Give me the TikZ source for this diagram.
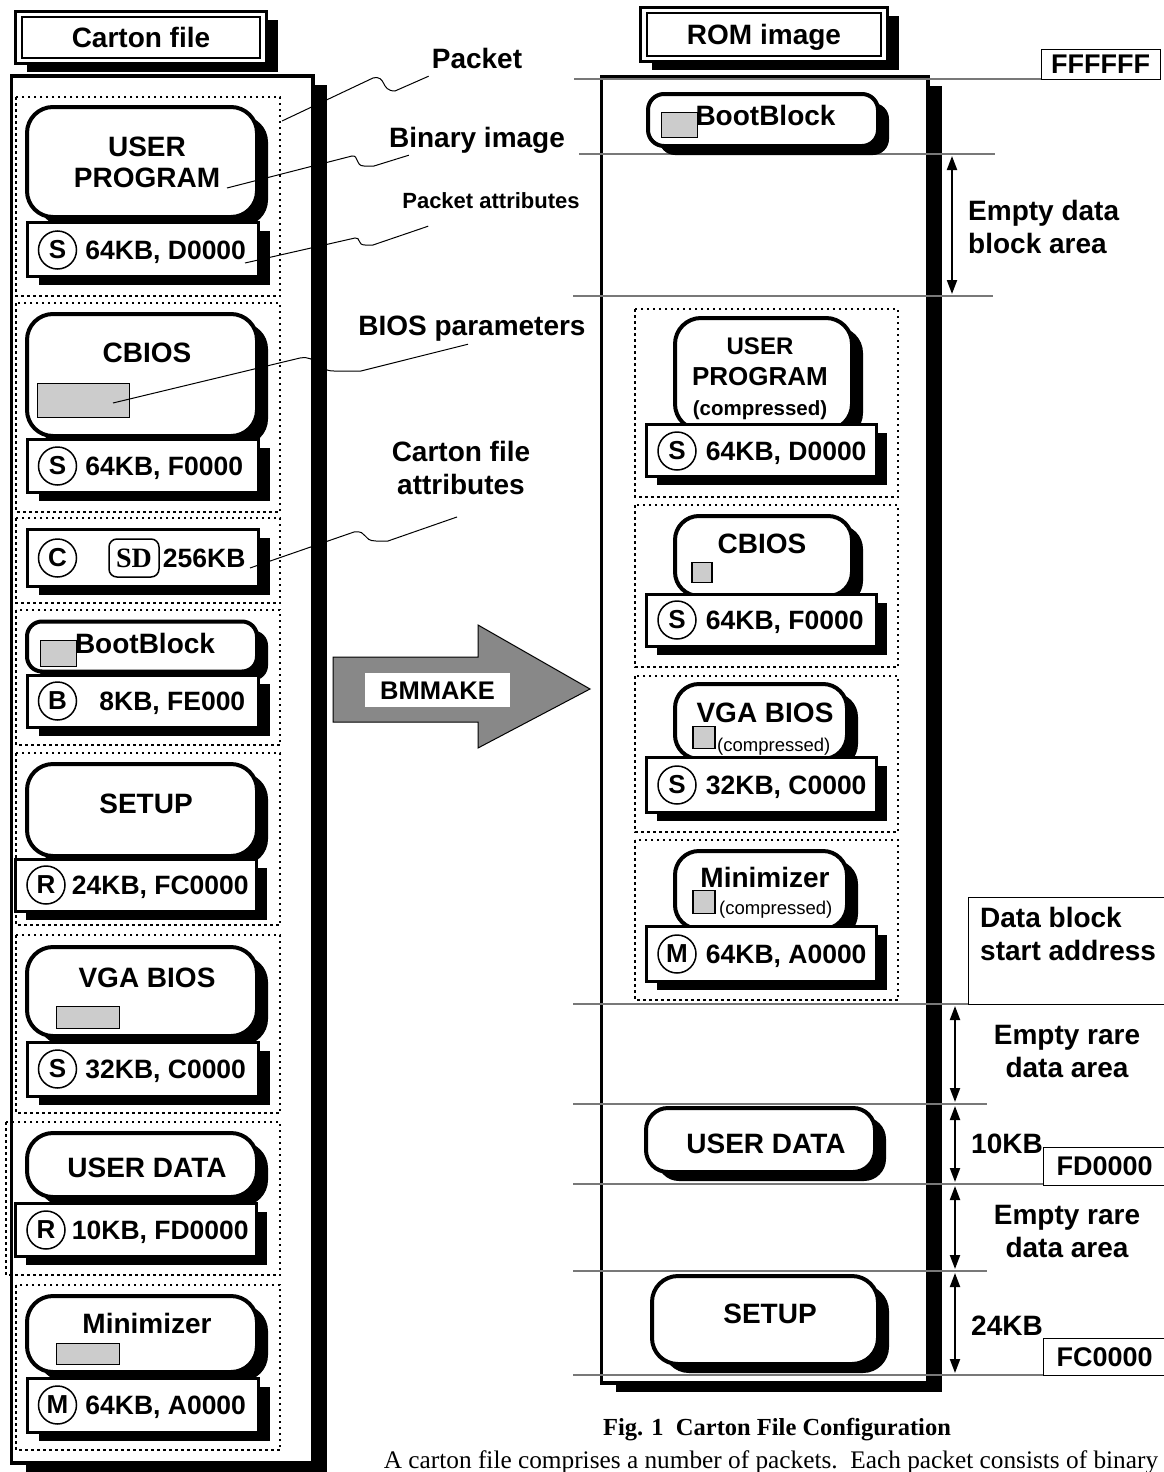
\documentclass[tikz,border=0pt]{standalone}
\usepackage{fontspec}
\setmainfont{Liberation Sans}
\newfontfamily\capserif{Liberation Serif}
\usepackage{tikz}
\usetikzlibrary{arrows.meta, positioning, shadows}
\definecolor{parmgray}{RGB}{204, 204, 204}
\definecolor{arrowgray}{RGB}{136, 136, 136}
\definecolor{levelgray}{RGB}{120, 120, 120}

\tikzset{
  sdw/.style={drop shadow={shadow xshift=11pt, shadow yshift=-9pt, fill=black, opacity=1}},
  bigsdw/.style={drop shadow={shadow xshift=14pt, shadow yshift=-9pt, fill=black, opacity=1}},
  bigbox/.style={draw, line width=3.5pt, fill=white, bigsdw, inner sep=0pt},
  titlebox/.style={draw, line width=3pt, fill=white, sdw, inner sep=0pt, text height=20pt, text depth=0pt},
  prog/.style={draw, line width=4pt, rounded corners=26pt, fill=white, sdw, inner sep=0pt},
  attr/.style={draw, line width=3pt, fill=white, sdw, inner sep=0pt, minimum width=231pt},
  pkt/.style={line width=1.5pt, dash pattern=on 2.5pt off 3.5pt},
  parm/.style={draw, line width=1.5pt, fill=parmgray, inner sep=0pt},
  circ/.style={draw, circle, line width=1.5pt, inner sep=0pt, minimum size=38pt, font=\bfseries\fontsize{26}{28}\selectfont},
  lbl/.style={inner sep=0pt, text height=20pt, text depth=0pt},
  atxt/.style={inner sep=0pt, text height=19pt, text depth=0pt, font=\bfseries\fontsize{26.5}{30}\selectfont},
  addr/.style={draw, line width=1pt, fill=white, inner xsep=13pt, inner ysep=0pt, text height=19pt, text depth=0pt, font=\bfseries\fontsize{27}{30}\selectfont},
  lvl/.style={levelgray, line width=1.5pt},
  lead/.style={line width=1pt},
}

\begin{document}
\begin{tikzpicture}[x=1pt, y=-1pt, >={Triangle[length=14pt, width=10pt]}, font=\bfseries\fontsize{28}{33}\selectfont]
    \useasboundingbox (0,0) rectangle (1163,1472);

    \node[titlebox, minimum width=251pt, minimum height=52pt] (ctitle) at (141,37.5) {Carton file};
    \draw[line width=1.2pt] ([shift={(8pt,-7pt)}]ctitle.north west) rectangle ([shift={(-8pt,7pt)}]ctitle.south east);
    \node[bigbox, minimum width=301.5pt, minimum height=1387pt] (cframe) at (162.25,769.5) {};

    \draw[pkt] (16,97) rectangle (280,296);
    \draw[pkt] (16,303) rectangle (280,512);
    \draw[pkt] (16,518) rectangle (280,603);
    \draw[pkt] (16,610) rectangle (280,745);
    \draw[pkt] (16,753) rectangle (280,925);
    \draw[pkt] (16,935) rectangle (280,1113);
    \draw[pkt] (6,1122) rectangle (280,1275);
    \draw[pkt] (16,1285) rectangle (280,1450);

    \node[prog, minimum width=230pt, minimum height=110pt] (lup) at (142,162) {};
    \node[inner sep=0pt, align=center, font=\bfseries\fontsize{28}{31}\selectfont] (lupt) at (147,162.5) {USER\\PROGRAM};
    \node[attr, minimum height=54pt] (la1) at (143,249) {};
    \node[circ] (ls1) at (57.5,250) {S};
    \node[atxt, right=8pt of ls1] (lt1) {64KB, D0000};

    \node[prog, minimum width=230pt, minimum height=122pt] (lcb) at (142,375) {};
    \node[lbl] (lcbt) at (147,352) {CBIOS};
    \node[parm, minimum width=92pt, minimum height=34pt] (lcbp) at (83.5,400.5) {};
    \node[attr, minimum height=53pt] (la2) at (143,465.5) {};
    \node[circ] (ls2) at (57.5,466) {S};
    \node[atxt, right=8pt of ls2] (lt2) {64KB, F0000};

    \node[attr, minimum height=57pt] (la3) at (143,557.5) {};
    \node[circ] (lc3) at (57.5,558) {C};
    \node[draw, line width=1.5pt, rounded corners=8pt, minimum width=50pt, minimum height=38pt, inner sep=0pt, font=\capserif\bfseries\fontsize{28}{30}\selectfont] (lsd) at (134,558) {SD};
    \node[atxt, right=3pt of lsd] (lt3) {256KB};

    \node[prog, rounded corners=15pt, minimum width=230pt, minimum height=50pt] (lbb) at (142,646.5) {};
    \node[parm, minimum width=36pt, minimum height=26pt] (lbbp) at (58.5,653.5) {};
    \node[lbl] (lbbt) at (145,643) {BootBlock};
    \node[attr, minimum height=52pt] (la4) at (143,701) {};
    \node[circ] (lb4) at (57.5,701) {B};
    \node[atxt, right=22pt of lb4] (lt4) {8KB, FE000};

    \node[prog, minimum width=230pt, minimum height=92pt] (lsu) at (142,810) {};
    \node[lbl] (lsut) at (146,803) {SETUP};
    \node[attr, minimum width=241pt, minimum height=52pt] (la5) at (135.5,885) {};
    \node[circ] (lr5) at (46,885) {R};
    \node[atxt, right=6pt of lr5] (lt5) {24KB, FC0000};

    \node[prog, minimum width=230pt, minimum height=89pt] (lvg) at (142,991.5) {};
    \node[lbl] (lvgt) at (147,977) {VGA BIOS};
    \node[parm, minimum width=63pt, minimum height=22pt] (lvgp) at (88,1017.5) {};
    \node[attr, minimum height=54pt] (la6) at (143,1069) {};
    \node[circ] (ls6) at (57.5,1069) {S};
    \node[atxt, right=8pt of ls6] (lt6) {32KB, C0000};

    \node[prog, minimum width=230pt, minimum height=64pt] (lud) at (142,1165) {};
    \node[lbl] (ludt) at (147,1167) {USER DATA};
    \node[attr, minimum width=241pt, minimum height=53pt] (la7) at (135.5,1229.5) {};
    \node[circ] (lr7) at (46,1230) {R};
    \node[atxt, right=6pt of lr7] (lt7) {10KB, FD0000};

    \node[prog, minimum width=230pt, minimum height=76pt] (lmn) at (142,1334) {};
    \node[lbl] (lmnt) at (147,1323) {Minimizer};
    \node[parm, minimum width=63pt, minimum height=21pt] (lmnp) at (88,1354) {};
    \node[attr, minimum height=54pt] (la8) at (143,1405) {};
    \node[circ] (lm8) at (57.5,1405) {M};
    \node[atxt, right=8pt of lm8] (lt8) {64KB, A0000};

    \node[lbl] (pklbl) at (477,58) {Packet};
    \node[lbl] (bilbl) at (477,137) {Binary image};
    \node[inner sep=0pt, text height=16pt, text depth=0pt, font=\bfseries\fontsize{22}{26}\selectfont] (palbl) at (491,200) {Packet attributes};
    \node[lbl] (bplbl) at (472,325) {BIOS parameters};
    \node[inner sep=0pt, align=center] (cflbl) at (461,468) {Carton file\\attributes};
    \draw[lead] (282,121) -- (373,78) .. controls (387,75) and (380,91) .. (395,91) -- ([shift={(-3pt,-8pt)}]pklbl.south west);
    \draw[lead] (227,188) -- (352,156) .. controls (359,155) and (355,166) .. (364,166) -- (374,166) -- ([shift={(20pt,-8pt)}]bilbl.south west);
    \draw[lead] (245,263) -- (355,238) .. controls (361,237) and (357,245) .. (365,245) -- (373,245) -- ([shift={(26pt,-18pt)}]palbl.south west);
    \draw[lead] (113,403) -- (300,358) .. controls (318,355) and (316,371) .. (334,371) -- (361,371) -- ([shift={(-4pt,-9pt)}]bplbl.south);
    \draw[lead] (250,568) -- (354,532) .. controls (368,530) and (362,541) .. (376,541) -- (388,541) -- ([shift={(-4pt,-22pt)}]cflbl.south);

    \fill[arrowgray, draw=black, line width=1pt] (333,657) -- (478,657) -- (478,625) -- (590,689) -- (478,748) -- (478,722) -- (333,722) -- cycle;
    \node[fill=white, minimum width=145pt, minimum height=34pt, inner sep=0pt, font=\bfseries\fontsize{25.5}{28}\selectfont, text height=18.4pt, text depth=0pt] (bmm) at (437.5,690) {BMMAKE};

    \node[titlebox, minimum width=247pt, minimum height=54pt] (rtitle) at (764,34.5) {ROM image};
    \draw[line width=1.2pt] ([shift={(8pt,-7pt)}]rtitle.north west) rectangle ([shift={(-8pt,7pt)}]rtitle.south east);
    \node[bigbox, minimum width=326.5pt, minimum height=1306pt] (rframe) at (764.75,730) {};

    \draw[lvl] (574,79) -- (1041,79);
    \draw[lvl] (579,154) -- (995,154);
    \draw[lvl] (573,296) -- (993,296);
    \draw[lvl] (573,1004) -- (1163,1004);
    \draw[lvl] (573,1104) -- (987,1104);
    \draw[lvl] (573,1184) -- (1043,1184);
    \draw[lvl] (573,1271) -- (987,1271);
    \draw[lvl] (573,1375) -- (1043,1375);

    \draw[pkt] (635,309) rectangle (898,497);
    \draw[pkt] (635,505) rectangle (898,667);
    \draw[pkt] (635,676) rectangle (898,832);
    \draw[pkt] (635,840) rectangle (898,1000);

    \node[prog, rounded corners=16pt, minimum width=230pt, minimum height=52pt] (rbb) at (763,120) {};
    \node[parm, minimum width=36pt, minimum height=25pt] (rbbp) at (679.5,125) {};
    \node[lbl] (rbbt) at (765.5,115) {BootBlock};

    \node[prog, minimum width=177pt, minimum height=112pt] (rup) at (763.5,374) {};
    \node[inner sep=0pt, align=center, font=\bfseries\fontsize{26}{30.5}\selectfont] (rupt) at (760,379) {{\fontsize{24}{30.5}\selectfont USER}\\PROGRAM\\{\fontsize{20.5}{30.5}\selectfont (compressed)}};
    \node[attr, minimum width=230pt, minimum height=52pt] (ra1) at (761,450) {};
    \node[circ] (rs1) at (677,451) {S};
    \node[atxt, right=9pt of rs1] (rt1) {64KB, D0000};

    \node[prog, rounded corners=24pt, minimum width=177pt, minimum height=80pt] (rcb) at (763.5,556) {};
    \node[lbl] (rcbt) at (762,543) {CBIOS};
    \node[parm, minimum width=20pt, minimum height=20pt] (rcbp) at (702,572.5) {};
    \node[attr, minimum width=230pt, minimum height=52pt] (ra2) at (761,620) {};
    \node[circ] (rs2) at (677,620) {S};
    \node[atxt, right=9pt of rs2] (rt2) {64KB, F0000};

    \node[prog, rounded corners=24pt, minimum width=172pt, minimum height=75pt] (rvg) at (761,721.5) {};
    \node[lbl] (rvgt) at (765,712) {VGA BIOS};
    \node[parm, minimum width=22pt, minimum height=22pt] (rvgp) at (704,737.5) {};
    \node[inner sep=0pt, text height=13.3pt, text depth=0pt, anchor=west, font=\fontsize{18.5}{22}\selectfont] (rvgc) at (717,745) {(compressed)};
    \node[attr, minimum width=230pt, minimum height=55pt] (ra3) at (761,784.5) {};
    \node[circ] (rs3) at (677,785) {S};
    \node[atxt, right=9pt of rs3] (rt3) {32KB, C0000};

    \node[prog, rounded corners=24pt, minimum width=172pt, minimum height=78pt] (rmn) at (761,890) {};
    \node[lbl] (rmnt) at (765,877) {Minimizer};
    \node[inner sep=0pt, text height=13.3pt, text depth=0pt, anchor=west, font=\fontsize{18.5}{22}\selectfont] (rmnc) at (719,908) {(compressed)};
    \node[parm, minimum width=22pt, minimum height=23pt] (rmnp) at (704,902) {};
    \node[attr, minimum width=230pt, minimum height=55pt] (ra4) at (761,953.5) {};
    \node[circ] (rm4) at (677,954) {M};
    \node[atxt, right=9pt of rm4] (rt4) {64KB, A0000};

    \node[prog, rounded corners=22pt, minimum width=229pt, minimum height=64pt] (rud) at (760.5,1140) {};
    \node[lbl] (rudt) at (766,1143) {USER DATA};
    \node[prog, minimum width=226pt, minimum height=88pt] (rsu) at (765,1320) {};
    \node[lbl] (rsut) at (770,1313) {SETUP};

    \node[addr, minimum width=119pt, minimum height=29pt, inner xsep=0pt] (ff) at (1100.5,64.5) {FFFFFF};
    \node[inner sep=0pt, align=left, anchor=west] (edlbl) at (968,227) {Empty data\\block area};
    \draw[<->, line width=2pt, shorten <=2pt, shorten >=2pt] (952,154) -- (952,296);

    \node[addr, anchor=north west, minimum width=210pt, minimum height=107pt] (dbox) at (968,897) {};
    \node[inner sep=0pt, align=left, anchor=west] (dblbl) at (980,934) {Data block\\start address};

    \node[inner sep=0pt, align=center] (er1) at (1067,1051.5) {Empty rare\\data area};
    \draw[<->, line width=2pt, shorten <=2pt, shorten >=2pt] (955,1004) -- (955,1104);
    \node[lbl] (kb10) at (1007,1143) {10KB};
    \node[addr, anchor=west, text width=110pt, align=left, minimum height=38pt] (fd) at (1043,1166) {FD0000};
    \draw[<->, line width=2pt, shorten <=2pt, shorten >=2pt] (955,1104) -- (955,1184);
    \node[inner sep=0pt, align=center] (er2) at (1067,1231.5) {Empty rare\\data area};
    \draw[<->, line width=2pt, shorten <=2pt, shorten >=2pt] (955,1184) -- (955,1271);
    \node[lbl] (kb24) at (1007,1325) {24KB};
    \node[addr, anchor=west, text width=110pt, align=left, minimum height=37pt] (fc) at (1043,1356.5) {FC0000};
    \draw[<->, line width=2pt, shorten <=2pt, shorten >=2pt] (955,1271) -- (955,1375);

    \node[inner sep=0pt, text height=16.3pt, text depth=0pt, font=\capserif\bfseries\fontsize{24.5}{28}\selectfont] (fig) at (777,1427) {Fig. 1\ \ Carton File Configuration};
    \node[inner sep=0pt, text height=16.6pt, text depth=0pt, font=\capserif\fontsize{25.3}{28}\selectfont] (figtxt) at (771,1460) {A carton file comprises a number of packets.\ \ Each packet consists of binary};
\end{tikzpicture}
\end{document}
